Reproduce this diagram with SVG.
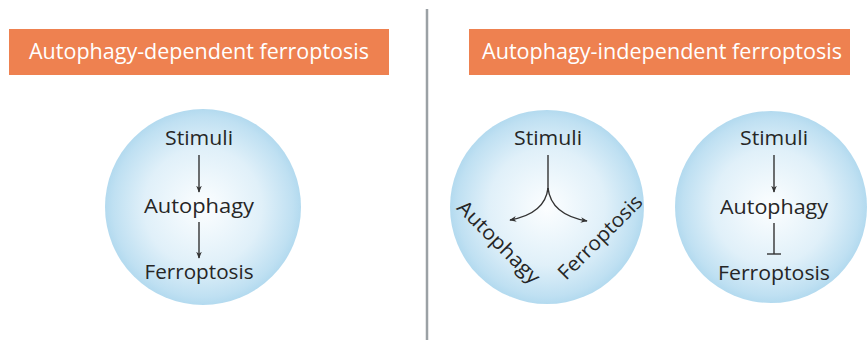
<svg xmlns="http://www.w3.org/2000/svg" width="868" height="340" viewBox="0 0 868 340">
  <style>
    .hdr { fill: #ee8150; }
    .hdr-text { font-family: "Open Sans", "Liberation Sans", sans-serif; font-size: 21px; fill: #ffffff; text-anchor: middle; }
    .lbl { font-family: "Open Sans", "Liberation Sans", sans-serif; font-size: 20px; fill: #262626; text-anchor: middle; }
    .ball { fill: url(#ballGrad); }
    .conn { fill: none; stroke: #333333; stroke-width: 1.4; }
  </style>
  <defs>
    <radialGradient id="ballGrad" cx="0.5" cy="0.5" r="0.5">
      <stop offset="0" stop-color="#fcfeff"/>
      <stop offset="0.6" stop-color="#e0f0f9"/>
      <stop offset="0.92" stop-color="#bfe0f2"/>
      <stop offset="1" stop-color="#b3daef"/>
    </radialGradient>
    <marker id="arrow" viewBox="0 0 10 10" refX="9" refY="5" markerWidth="7" markerHeight="7" markerUnits="userSpaceOnUse" orient="auto">
      <path d="M0,1 L10,5 L0,9 L3,5 Z" fill="#333333"/>
    </marker>
  </defs>

  <g id="header-left">
    <rect class="hdr" x="9" y="29" width="380" height="46"/>
    <text class="hdr-text" x="199" y="59" textLength="340" lengthAdjust="spacingAndGlyphs">Autophagy-dependent ferroptosis</text>
  </g>
  <g id="header-right">
    <rect class="hdr" x="469" y="29" width="381" height="46"/>
    <text class="hdr-text" x="662" y="59" textLength="360" lengthAdjust="spacingAndGlyphs">Autophagy-independent ferroptosis</text>
  </g>

  <g id="divider">
    <line x1="427" y1="9" x2="427" y2="340" stroke="#9ba1a5" stroke-width="2.5"/>
  </g>

  <g id="circle-left">
    <circle class="ball" cx="203" cy="207" r="98"/>
    <text class="lbl" x="199" y="145" textLength="68" lengthAdjust="spacingAndGlyphs">Stimuli</text>
    <text class="lbl" x="199" y="213" textLength="110" lengthAdjust="spacingAndGlyphs">Autophagy</text>
    <text class="lbl" x="199" y="279" textLength="109" lengthAdjust="spacingAndGlyphs">Ferroptosis</text>
  </g>

  <g id="circle-middle">
    <circle class="ball" cx="547" cy="207" r="97"/>
    <text class="lbl" x="548" y="145" textLength="68" lengthAdjust="spacingAndGlyphs">Stimuli</text>
    <text class="lbl" transform="translate(494,247) rotate(45)" x="0" y="0" textLength="108" lengthAdjust="spacingAndGlyphs">Autophagy</text>
    <text class="lbl" transform="translate(605,242) rotate(-45)" x="0" y="0" textLength="110" lengthAdjust="spacingAndGlyphs">Ferroptosis</text>
  </g>

  <g id="circle-right">
    <circle class="ball" cx="771" cy="207" r="96"/>
    <text class="lbl" x="774" y="145" textLength="68" lengthAdjust="spacingAndGlyphs">Stimuli</text>
    <text class="lbl" x="774" y="214" textLength="108" lengthAdjust="spacingAndGlyphs">Autophagy</text>
    <text class="lbl" x="774" y="280" textLength="112" lengthAdjust="spacingAndGlyphs">Ferroptosis</text>
  </g>

  <g id="connectors">
    <line class="conn" x1="199" y1="155" x2="199" y2="192" marker-end="url(#arrow)"/>
    <line class="conn" x1="199" y1="222" x2="199" y2="258" marker-end="url(#arrow)"/>
    <line class="conn" x1="548" y1="155" x2="548" y2="190"/>
    <path class="conn" d="M548,188 C546,206 532,216 510,220" marker-end="url(#arrow)"/>
    <path class="conn" d="M548,188 C550,206 564,217 587,221" marker-end="url(#arrow)"/>
    <line class="conn" x1="774" y1="155" x2="774" y2="192" marker-end="url(#arrow)"/>
    <line class="conn" x1="774" y1="223" x2="774" y2="254"/>
    <line class="conn" x1="767" y1="254" x2="781" y2="254"/>
  </g>
</svg>
